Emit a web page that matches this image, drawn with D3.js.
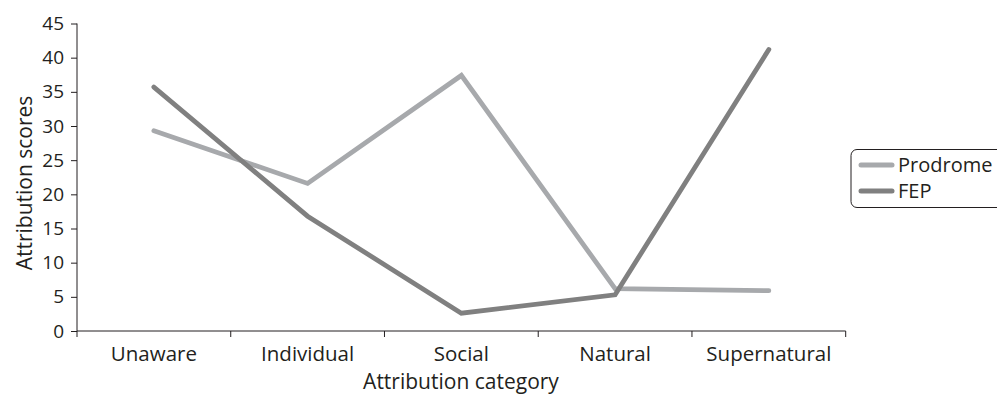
<!DOCTYPE html>
<html><head><meta charset="utf-8">
<script src="https://cdn.jsdelivr.net/npm/d3@7"></script>
<style>body{margin:0;background:#fff}svg{display:block}text{font-family:"Open Sans","Noto Sans",sans-serif;fill:#231f20}</style>
</head><body><svg id="c" width="997" height="396"></svg>
<script>
const categories = ["Unaware","Individual","Social","Natural","Supernatural"];
const prodrome = [29.3, 21.6, 37.4, 6.2, 5.9];
const fep = [35.7, 16.8, 2.6, 5.3, 41.2];
const yTicks = [0,5,10,15,20,25,30,35,40,45];
const seriesNames = ["Prodrome","FEP"];
const seriesColors = ["#a7a9ac","#808080"];

const svg = d3.select("#c");
const x = d3.scaleBand().domain(categories).range([77, 845.7]);
const y = d3.scaleLinear().domain([0,45]).range([331, 23.5]);

// y axis
const ya = svg.append("g").attr("transform","translate(77,0)")
  .call(d3.axisLeft(y).tickValues(yTicks).tickSize(6).tickPadding(7));
ya.selectAll("text").style("font-size","19px").attr("fill","#231f20");
ya.selectAll("line,path").attr("stroke","#231f20");
ya.select("path").attr("d","M0,23.5V331");

// x axis
const xa = svg.append("g").attr("transform","translate(0,331)")
  .call(d3.axisBottom(x).tickSize(0).tickPadding(0));
xa.select("path").attr("stroke","#231f20").attr("d","M77,0H845.7");
xa.selectAll(".tick text").style("font-size","20.5px").attr("fill","#231f20").attr("y",30).attr("dy","0");
// tick marks at band boundaries
const bounds = categories.map(c => x(c) + x.bandwidth()).concat([x(categories[0])]);
xa.selectAll(".bnd").data(bounds).join("line").attr("class","bnd")
  .attr("x1",d=>d).attr("x2",d=>d).attr("y1",0).attr("y2",6).attr("stroke","#231f20");

// titles
svg.append("text").attr("transform","translate(32,183) rotate(-90)").attr("text-anchor","middle")
  .style("font-size","21px").text("Attribution scores");
svg.append("text").attr("x",461).attr("y",389).attr("text-anchor","middle")
  .style("font-size","21px").text("Attribution category");

// lines
const line = d3.line().x((d,i)=>x(categories[i])+x.bandwidth()/2).y(d=>y(d));
[prodrome, fep].forEach((s,k)=>{
  svg.append("path").datum(s).attr("d",line).attr("fill","none")
    .attr("stroke",seriesColors[k]).attr("stroke-width",4.8)
    .attr("stroke-linecap","round").attr("stroke-linejoin","miter");
});

// legend
const lg = svg.append("g");
lg.append("rect").attr("x",851).attr("y",149.5).attr("width",170).attr("height",58)
  .attr("rx",6).attr("fill","none").attr("stroke","#231f20").attr("stroke-width",1);
seriesNames.forEach((n,i)=>{
  const yy = [165, 191][i];
  lg.append("line").attr("x1",861).attr("x2",892).attr("y1",yy).attr("y2",yy)
    .attr("stroke",seriesColors[i]).attr("stroke-width",5).attr("stroke-linecap","round");
  lg.append("text").attr("x",898).attr("y",yy+7).style("font-size","20px").text(n);
});
</script></body></html>
